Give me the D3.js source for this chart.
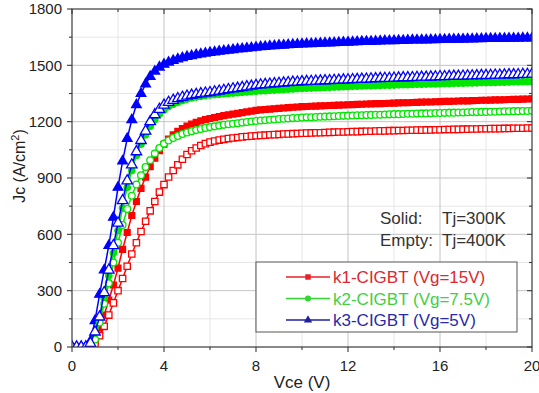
<!DOCTYPE html>
<html>
<head>
<meta charset="utf-8">
<script src="https://d3js.org/d3.v7.min.js"></script>
<style>
  body { margin: 0; background: #fff; }
  svg text { font-family: "Liberation Sans", Arial, sans-serif; }
</style>
</head>
<body>
<svg id="chart" width="539" height="393"></svg>
<script>
// Vce grid, 0.2 V steps
const vce = d3.range(101).map(i => +(i * 0.2).toFixed(1));

// Jc (A/cm2), solid = 300K, empty = 400K
const k1_300 = [0,0,0,0,
  0,30,100,170,250,330,420,520,610,700,775,845,905,960,1005,1045,1080,
  1108,1130,1148,1163,1176,1187,1196,1204,1211,1217,
  1222,1227,1232,1236,1240,1244,1248,1252,1256,1260,
  1263,1265,1267,1269,1271,1273,1275,1277,1278,1280,
  1281,1282,1283,1284,1285,1286,1287,1288,1289,1290,
  1291,1292,1293,1294,1295,1296,1296,1297,1298,1299,
  1300,1301,1301,1302,1303,1304,1305,1305,1306,1307,
  1308,1308,1309,1310,1311,1311,1312,1313,1314,1314,
  1315,1316,1316,1317,1318,1319,1319,1320,1321,1322];
const k2_300 = [0,0,0,0,
  10,50,150,260,380,500,620,740,850,940,1020,1080,1130,1175,1210,1240,1262,
  1280,1293,1303,1312,1320,1326,1331,1335,1339,1342,
  1344,1346,1348,1350,1352,1354,1356,1358,1360,1362,
  1364,1365,1367,1368,1370,1371,1373,1374,1376,1377,
  1378,1379,1380,1381,1382,1383,1384,1385,1386,1387,
  1388,1389,1390,1391,1391,1392,1393,1394,1394,1395,
  1396,1397,1397,1398,1399,1399,1400,1401,1401,1402,
  1403,1403,1404,1405,1405,1406,1406,1407,1408,1408,
  1409,1409,1410,1410,1411,1412,1412,1413,1413,1414];
const k3_300 = [0,0,0,0,
  30,140,280,410,540,690,850,990,1110,1210,1290,1350,1400,1440,1468,1490,1505,
  1516,1525,1533,1540,1546,1551,1556,1560,1564,1568,
  1571,1574,1577,1580,1583,1586,1588,1591,1593,1596,
  1598,1600,1602,1604,1606,1607,1609,1610,1612,1613,
  1614,1615,1616,1617,1618,1619,1620,1621,1622,1623,
  1624,1625,1626,1627,1627,1628,1629,1630,1630,1631,
  1632,1632,1633,1634,1634,1635,1635,1636,1636,1637,
  1637,1638,1638,1639,1639,1640,1640,1641,1641,1642,
  1642,1642,1643,1643,1644,1644,1644,1645,1645,1645];
const k1_400 = [0,0,0,0,
  0,15,60,110,170,235,300,365,430,495,555,615,670,725,775,825,865,
  905,940,970,1000,1025,1045,1060,1073,1083,1091,
  1097,1102,1106,1110,1113,1116,1119,1121,1123,1125,
  1127,1128,1130,1131,1132,1134,1135,1136,1137,1138,
  1139,1140,1141,1141,1142,1143,1144,1145,1145,1146,
  1147,1147,1148,1149,1149,1150,1151,1151,1152,1152,
  1153,1153,1154,1154,1155,1155,1156,1156,1157,1157,
  1158,1158,1159,1159,1160,1160,1161,1161,1162,1162,
  1163,1163,1163,1164,1164,1165,1165,1165,1166,1166];
const k2_400 = [0,0,0,0,
  0,40,130,230,340,450,555,650,735,805,865,915,958,995,1030,1060,1083,
  1100,1113,1124,1134,1142,1149,1155,1161,1166,1171,
  1175,1179,1183,1186,1189,1192,1195,1198,1201,1204,
  1206,1208,1210,1212,1214,1216,1217,1219,1220,1222,
  1223,1224,1225,1226,1227,1228,1229,1230,1231,1232,
  1233,1234,1234,1235,1236,1237,1237,1238,1239,1240,
  1240,1241,1242,1242,1243,1244,1244,1245,1246,1246,
  1247,1248,1248,1249,1249,1250,1251,1251,1252,1252,
  1253,1253,1254,1255,1255,1256,1256,1257,1257,1258];
const k3_400 = [0,0,0,0,
  20,80,160,290,410,540,660,780,885,970,1040,1100,1150,1200,1237,1266,1288,
  1303,1314,1323,1330,1336,1341,1345,1349,1352,1355,
  1359,1363,1367,1371,1375,1378,1382,1386,1389,1393,
  1396,1398,1400,1402,1404,1406,1408,1410,1411,1413,
  1414,1415,1416,1417,1418,1419,1420,1421,1422,1423,
  1424,1425,1426,1427,1428,1429,1430,1431,1431,1432,
  1433,1434,1434,1435,1436,1437,1437,1438,1439,1440,
  1440,1441,1442,1442,1443,1444,1444,1445,1446,1446,
  1447,1448,1448,1449,1450,1450,1451,1452,1452,1453];

const xTicks = [0, 4, 8, 12, 16, 20];
const yTicks = [0, 300, 600, 900, 1200, 1500, 1800];
const legendLabels = ["k1-CIGBT (Vg=15V)", "k2-CIGBT (Vg=7.5V)", "k3-CIGBT (Vg=5V)"];
const noteLines = [["Solid:", "Tj=300K"], ["Empty:", "Tj=400K"]];

const red = "#ff0000", green = "#00e600", blue = "#0000ff";

const svg = d3.select("#chart");
const m = {left: 72, top: 9, right: 7, bottom: 46};
const W = 539 - m.left - m.right, H = 393 - m.top - m.bottom;

const x = d3.scaleLinear().domain([0, 20]).range([0, W]);
const y = d3.scaleLinear().domain([0, 1800]).range([H, 0]);

const g = svg.append("g").attr("transform", `translate(${m.left},${m.top})`);

svg.append("defs").append("clipPath").attr("id", "clip")
  .append("rect").attr("width", W).attr("height", H);

// grid
const minorX = d3.range(2, 20, 4), minorY = d3.range(150, 1800, 300);
g.append("g").selectAll("line").data(minorX).join("line")
  .attr("x1", d => x(d)).attr("x2", d => x(d)).attr("y1", 0).attr("y2", H)
  .attr("stroke", "#e6e6e6");
g.append("g").selectAll("line").data(minorY).join("line")
  .attr("y1", d => y(d)).attr("y2", d => y(d)).attr("x1", 0).attr("x2", W)
  .attr("stroke", "#e6e6e6");
g.append("g").selectAll("line").data(xTicks.slice(1, -1)).join("line")
  .attr("x1", d => x(d)).attr("x2", d => x(d)).attr("y1", 0).attr("y2", H)
  .attr("stroke", "#c4c4c4");
g.append("g").selectAll("line").data(yTicks.slice(1, -1)).join("line")
  .attr("y1", d => y(d)).attr("y2", d => y(d)).attr("x1", 0).attr("x2", W)
  .attr("stroke", "#c4c4c4");

// series
const series = [
  {v: k1_300, c: red,   sym: d3.symbolSquare,   size: 34, fill: true},
  {v: k2_300, c: green, sym: d3.symbolCircle,   size: 32, fill: true},
  {v: k3_300, c: blue,  sym: d3.symbolTriangle, size: 40, fill: true},
  {v: k1_400, c: red,   sym: d3.symbolSquare,   size: 40, fill: false},
  {v: k2_400, c: green, sym: d3.symbolCircle,   size: 36, fill: false},
  {v: k3_400, c: blue,  sym: d3.symbolTriangle, size: 48, fill: false}
];

const plot = g.append("g").attr("clip-path", "url(#clip)");
const line = d3.line().x(d => x(d[0])).y(d => y(d[1]));

series.forEach(s => {
  const pts = vce.map((v, i) => [v, s.v[i]]);
  plot.append("path").datum(pts)
    .attr("d", line).attr("fill", "none")
    .attr("stroke", s.c).attr("stroke-width", 1.5);
  plot.append("g").selectAll("path").data(pts).join("path")
    .attr("transform", d => `translate(${x(d[0])},${y(d[1])})`)
    .attr("d", d3.symbol().type(s.sym).size(s.size))
    .attr("fill", s.fill ? s.c : "#fff")
    .attr("stroke", s.c).attr("stroke-width", 1.3);
});

// frame
g.append("rect").attr("width", W).attr("height", H)
  .attr("fill", "none").attr("stroke", "#3a3a3a").attr("stroke-width", 1.2);

// ticks: bottom/left outward, top/right inward
const tk = g.append("g").attr("stroke", "#3a3a3a").attr("stroke-width", 1.1);
xTicks.forEach(t => {
  tk.append("line").attr("x1", x(t)).attr("x2", x(t)).attr("y1", H).attr("y2", H + 5);
  tk.append("line").attr("x1", x(t)).attr("x2", x(t)).attr("y1", 0).attr("y2", 5);
});
minorX.forEach(t => {
  tk.append("line").attr("x1", x(t)).attr("x2", x(t)).attr("y1", H).attr("y2", H + 3);
  tk.append("line").attr("x1", x(t)).attr("x2", x(t)).attr("y1", 0).attr("y2", 3);
});
yTicks.forEach(t => {
  tk.append("line").attr("y1", y(t)).attr("y2", y(t)).attr("x1", 0).attr("x2", -5);
  tk.append("line").attr("y1", y(t)).attr("y2", y(t)).attr("x1", W).attr("x2", W - 5);
});
minorY.forEach(t => {
  tk.append("line").attr("y1", y(t)).attr("y2", y(t)).attr("x1", 0).attr("x2", -3);
  tk.append("line").attr("y1", y(t)).attr("y2", y(t)).attr("x1", W).attr("x2", W - 3);
});

// tick labels
g.append("g").selectAll("text").data(xTicks).join("text")
  .attr("x", d => x(d)).attr("y", H + 24)
  .attr("text-anchor", "middle").attr("font-size", 15).attr("fill", "#222")
  .text(d => d);
g.append("g").selectAll("text").data(yTicks).join("text")
  .attr("x", -10).attr("y", d => y(d)).attr("dy", "0.36em")
  .attr("text-anchor", "end").attr("font-size", 15).attr("fill", "#222")
  .text(d => d);

// axis titles
svg.append("text").attr("x", 302).attr("y", 388)
  .attr("text-anchor", "middle").attr("font-size", 17).attr("fill", "#222")
  .text("Vce (V)");
const yt = svg.append("text")
  .attr("transform", "translate(25,166) rotate(-90)")
  .attr("text-anchor", "middle").attr("font-size", 16).attr("fill", "#222");
yt.append("tspan").text("Jc (A/cm");
yt.append("tspan").attr("dy", -6).attr("font-size", 11).text("2");
yt.append("tspan").attr("dy", 6).text(")");

// Tj note
noteLines.forEach((n, i) => {
  svg.append("text").attr("x", 380).attr("y", 224 + i * 22)
    .attr("font-size", 17).attr("fill", "#333").text(n[0]);
  svg.append("text").attr("x", 442).attr("y", 224 + i * 22)
    .attr("font-size", 17).attr("fill", "#333").text(n[1]);
});

// legend
const lg = svg.append("g");
lg.append("rect").attr("x", 256).attr("y", 262).attr("width", 261).attr("height", 70)
  .attr("fill", "#fff").attr("stroke", "#555").attr("stroke-width", 1);
const legCol = ["#e8202a", "#33d633", "#1f1fa0"];
const legTxt = ["#e0262e", "#3fd03f", "#2a2aa8"];
const legSym = [d3.symbolSquare, d3.symbolCircle, d3.symbolTriangle];
legendLabels.forEach((t, i) => {
  const ly = 277 + i * 21.5;
  lg.append("line").attr("x1", 286).attr("x2", 330).attr("y1", ly).attr("y2", ly)
    .attr("stroke", legCol[i]).attr("stroke-width", 1.6);
  lg.append("path").attr("transform", `translate(308,${ly})`)
    .attr("d", d3.symbol().type(legSym[i]).size(30)).attr("fill", legCol[i]);
  lg.append("text").attr("x", 333).attr("y", ly).attr("dy", "0.36em")
    .attr("font-size", 17).attr("fill", legTxt[i]).text(t);
});
</script>
</body>
</html>
